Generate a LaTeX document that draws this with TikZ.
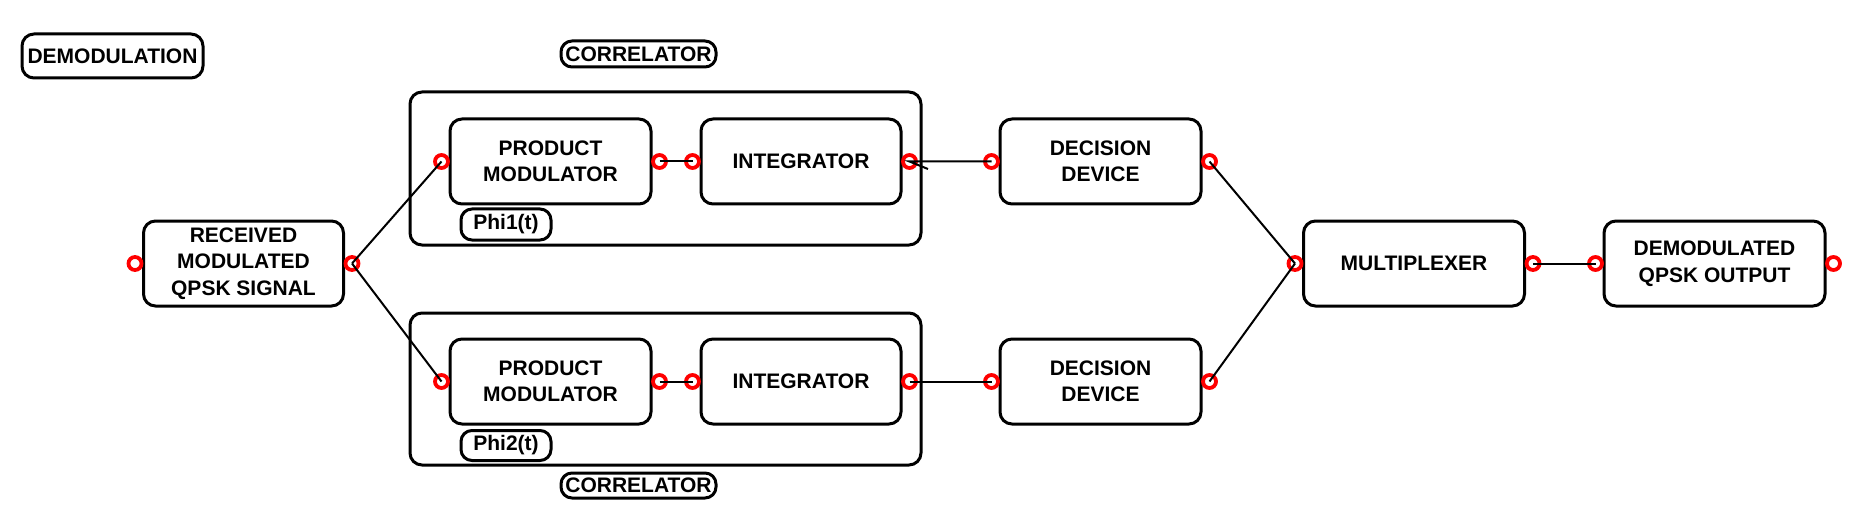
\documentclass[tikz,border=0pt]{standalone}
\usepackage{fontspec}
\setmainfont{Liberation Sans}
\begin{document}
\begin{tikzpicture}[x=1pt,y=-1pt,
  blk/.style={draw, line width=3pt, rounded corners=12pt, inner sep=0pt, align=center,
    font=\fontsize{21}{26.5}\selectfont\bfseries},
  lbl/.style={draw, line width=3pt, rounded corners=11pt, inner sep=0pt,
    font=\fontsize{21}{26.5}\selectfont\bfseries},
  frame/.style={draw, line width=3pt, rounded corners=12pt, inner sep=0pt},
  port/.style={circle, draw=red, line width=3.8pt, minimum size=13pt, inner sep=0pt},
  wire/.style={line width=2pt}]
\useasboundingbox (0,0) rectangle (1865,505);

% frames
\node[frame, minimum width=511pt, minimum height=153pt] (outer1) at (665.5,168.5) {};
\node[frame, minimum width=511pt, minimum height=152pt] (outer2) at (665.5,389) {};

% labels
\node[blk, minimum width=181pt, minimum height=44pt] (demod) at (112.5,56) {DEMODULATION};
\node[lbl, minimum width=155pt, minimum height=26pt] (corrT) at (638.5,54) {CORRELATOR};
\node[lbl, minimum width=155pt, minimum height=25pt] (corrB) at (638.5,485.5) {CORRELATOR};
\node[lbl, minimum width=90pt, minimum height=31pt] (phi1) at (506,224.5) {Phi1(t)};
\node[lbl, minimum width=90pt, minimum height=30pt] (phi2) at (506,445.5) {Phi2(t)};

% blocks
\node[blk, minimum width=200pt, minimum height=85pt] (rx) at (243.5,263.5) {RECEIVED\\MODULATED\\QPSK SIGNAL};
\node[blk, minimum width=201pt, minimum height=85pt] (pm1) at (550.5,161.5) {PRODUCT\\MODULATOR};
\node[blk, minimum width=200pt, minimum height=85pt] (int1) at (801,161.5) {INTEGRATOR};
\node[blk, minimum width=201pt, minimum height=85pt] (dd1) at (1100.5,161.5) {DECISION\\DEVICE};
\node[blk, minimum width=201pt, minimum height=85pt] (pm2) at (550.5,381.5) {PRODUCT\\MODULATOR};
\node[blk, minimum width=200pt, minimum height=85pt] (int2) at (801,381.5) {INTEGRATOR};
\node[blk, minimum width=201pt, minimum height=85pt] (dd2) at (1100.5,381.5) {DECISION\\DEVICE};
\node[blk, minimum width=221pt, minimum height=85pt] (mux) at (1414,263.5) {MULTIPLEXER};
\node[blk, minimum width=221pt, minimum height=85pt] (out) at (1714.5,263.5) {DEMODULATED\\QPSK OUTPUT};

% ports
\path (rx.west) ++(-7,0) node[port] (rxi) {};
\path (rx.east) ++(7,0) node[port] (rxo) {};
\path (pm1.west) ++(-7,0) node[port] (pm1i) {};
\path (pm1.east) ++(7,0) node[port] (pm1o) {};
\path (int1.west) ++(-7,0) node[port] (int1i) {};
\path (int1.east) ++(7,0) node[port] (int1o) {};
\path (dd1.west) ++(-7,0) node[port] (dd1i) {};
\path (dd1.east) ++(7,0) node[port] (dd1o) {};
\path (pm2.west) ++(-7,0) node[port] (pm2i) {};
\path (pm2.east) ++(7,0) node[port] (pm2o) {};
\path (int2.west) ++(-7,0) node[port] (int2i) {};
\path (int2.east) ++(7,0) node[port] (int2o) {};
\path (dd2.west) ++(-7,0) node[port] (dd2i) {};
\path (dd2.east) ++(7,0) node[port] (dd2o) {};
\path (mux.west) ++(-7,0) node[port] (muxi) {};
\path (mux.east) ++(7,0) node[port] (muxo) {};
\path (out.west) ++(-7,0) node[port] (outi) {};
\path (out.east) ++(7,0) node[port] (outo) {};
\coordinate (tick) at (928,169);

% wires
\draw[wire] (rxo.center) -- (pm1i.center);
\draw[wire] (rxo.center) -- (pm2i.center);
\draw[wire] (pm1o.center) -- (int1i.center);
\draw[wire] (pm2o.center) -- (int2i.center);
\draw[wire] (dd1i.center) -- (int1o.center) -- (tick);
\draw[wire] (int2o.center) -- (dd2i.center);
\draw[wire] (dd1o.center) -- (muxi.center);
\draw[wire] (dd2o.center) -- (muxi.center);
\draw[wire] (muxo.center) -- (outi.center);
\end{tikzpicture}
\end{document}
